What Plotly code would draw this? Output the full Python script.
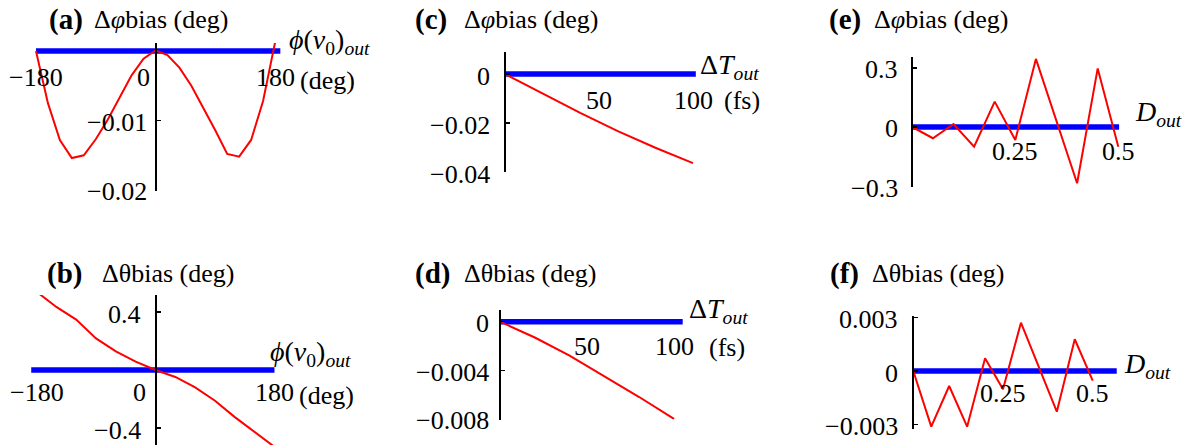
import plotly.graph_objects as go

W, H = 1188, 445
FONT = "Liberation Serif"
FS = 26

# ---------------- data ----------------
# (a) delta-phi bias vs phi(nu0)_out
a_x = [-180, -162, -144, -126, -108, -90, -72, -54, -36, -18, 0,
       18, 36, 54, 72, 90, 108, 126, 144, 162, 180]
a_red = [0.0, -0.0075, -0.0128, -0.0154, -0.0150, -0.0127, -0.0099, -0.0068, -0.0035, -0.0011, 0.0001,
         -0.0006, -0.0024, -0.0050, -0.0081, -0.0114, -0.0148, -0.0152, -0.0128, -0.0072, 0.0012]
a_blue_x = [-180, 188]

# (b) delta-theta bias vs phi(nu0)_out
b_x = [-180, -150, -120, -90, -60, -30, 0, 30, 60, 90, 120, 150, 180]
b_red = [0.54, 0.435, 0.348, 0.218, 0.128, 0.058, 0.0, -0.048, -0.120, -0.212, -0.325, -0.428, -0.53]
b_blue_x = [-188, 180]

# (c) delta-phi bias vs Delta T_out (fs)
c_x = [0, 20, 40, 60, 80, 100]
c_red = [0.0, -0.0081, -0.0159, -0.0233, -0.0301, -0.0364]
c_blue_x = [0, 101.5]

# (d) delta-theta bias vs Delta T_out (fs)
d_x = [0, 20, 40, 60, 80, 100]
d_red = [0.0, -0.0013, -0.0028, -0.0045, -0.0062, -0.0080]
d_blue_x = [0, 105]

# (e) delta-phi bias vs D_out
e_x = [0, 0.05, 0.10, 0.15, 0.20, 0.25, 0.30, 0.35, 0.40, 0.45, 0.50]
e_red = [0.0, -0.057, 0.015, -0.100, 0.129, -0.066, 0.346, 0.027, -0.286, 0.298, -0.100]
e_blue_x = [0, 0.502]

# (f) delta-theta bias vs D_out
f_x = [0, 0.05, 0.10, 0.15, 0.20, 0.25, 0.30, 0.35, 0.40, 0.45, 0.50]
f_red = [0.0, -0.00312, -0.00084, -0.00312, 0.00071, -0.00103, 0.00271, 0.00022, -0.00228, 0.00178, -0.00054]
f_blue_x = [0, 0.567]

# tick labels
a_xticks, a_xtext = [-180, 0, 180], ["\u2212180", "0", "180"]
a_yticks, a_ytext = [-0.01, -0.02], ["\u22120.01", "\u22120.02"]
b_xticks, b_xtext = [-180, 0, 180], ["\u2212180", "0", "180"]
b_yticks, b_ytext = [0.4, -0.4], ["0.4", "\u22120.4"]
c_xticks, c_xtext = [50, 100], ["50", "100"]
c_yticks, c_ytext = [0, -0.02, -0.04], ["0", "\u22120.02", "\u22120.04"]
d_xticks, d_xtext = [50, 100], ["50", "100"]
d_yticks, d_ytext = [0, -0.004, -0.008], ["0", "\u22120.004", "\u22120.008"]
e_xticks, e_xtext = [0.25, 0.5], ["0.25", "0.5"]
e_yticks, e_ytext = [0.3, 0, -0.3], ["0.3", "0", "\u22120.3"]
f_xticks, f_xtext = [0.25, 0.5], ["0.25", "0.5"]
f_yticks, f_ytext = [0.003, 0, -0.003], ["0.003", "0", "\u22120.003"]

PHI_LABEL = "<i>\u03d5</i>(<i>\u03bd</i><sub>0</sub>)<sub><i>out</i></sub>"
DT_LABEL = "\u0394<i>T</i><sub><i>out</i></sub>"
D_LABEL = "<i>D</i><sub><i>out</i></sub>"
PHI_TITLE = "\u0394<i>\u03c6</i>bias (deg)"
THETA_TITLE = "\u0394\u03b8bias (deg)"

# ---------------- panel geometry (pixel mapping) ----------------
panels = [
    dict(tag="(a)", x=a_x, y=a_red, bx=a_blue_x, x0=155.5, xs=0.664, y0=51, ys=6950,
         xr=[-190, 195], yr=[-0.0201, 0.00115],
         xt=a_xticks, xtt=a_xtext, yt=a_yticks, ytt=a_ytext, xlab_dy=27, zero_dx=-12.5, ygap=7,
         title=PHI_TITLE, tag_px=(47, 19), title_px=(92, 19),
         alab=PHI_LABEL, alab_px=(287, 42), unit="(deg)", unit_px=(298, 80)),
    dict(tag="(b)", x=b_x, y=b_red, bx=b_blue_x, x0=155.5, xs=0.661, y0=370, ys=145,
         xr=[-192, 190], yr=[-0.517, 0.517],
         xt=b_xticks, xtt=b_xtext, yt=b_yticks, ytt=b_ytext, xlab_dy=22, zero_dx=-15.5, ygap=12,
         title=THETA_TITLE, tag_px=(45, 273), title_px=(100, 273),
         alab=PHI_LABEL, alab_px=(268, 353), unit="(deg)", unit_px=(297, 395)),
    dict(tag="(c)", x=c_x, y=c_red, bx=c_blue_x, x0=505, xs=1.88, y0=74, ys=2450,
         xr=[-2, 104], yr=[-0.0401, 0.0091],
         xt=c_xticks, xtt=c_xtext, yt=c_yticks, ytt=c_ytext, xlab_dy=26, zero_dx=0, ygap=13,
         title=PHI_TITLE, tag_px=(413, 19), title_px=(462, 19),
         alab=DT_LABEL, alab_px=(698, 66), unit="(fs)", unit_px=(722, 100)),
    dict(tag="(d)", x=d_x, y=d_red, bx=d_blue_x, x0=500, xs=1.74, y0=321.7, ys=12150,
         xr=[-2, 106], yr=[-0.00805, 0.00096],
         xt=d_xticks, xtt=d_xtext, yt=d_yticks, ytt=d_ytext, xlab_dy=25, zero_dx=0, ygap=9,
         title=THETA_TITLE, tag_px=(413, 273), title_px=(462, 273),
         alab=DT_LABEL, alab_px=(687, 310), unit="(fs)", unit_px=(707, 347)),
    dict(tag="(e)", x=e_x, y=e_red, bx=e_blue_x, x0=912.3, xs=412, y0=127, ys=196.7,
         xr=[-0.01, 0.52], yr=[-0.3035, 0.357],
         xt=e_xticks, xtt=e_xtext, yt=e_yticks, ytt=e_ytext, xlab_dy=25, zero_dx=0, ygap=12,
         title=PHI_TITLE, tag_px=(827, 19), title_px=(872, 19),
         alab=D_LABEL, alab_px=(1133, 113), unit=None, unit_px=None),
    dict(tag="(f)", x=f_x, y=f_red, bx=f_blue_x, x0=913.3, xs=358.8, y0=371, ys=17833,
         xr=[-0.01, 0.58], yr=[-0.00325, 0.00308],
         xt=f_xticks, xtt=f_xtext, yt=f_yticks, ytt=f_ytext, xlab_dy=22, zero_dx=0, ygap=13,
         title=THETA_TITLE, tag_px=(828, 273), title_px=(870, 273),
         alab=D_LABEL, alab_px=(1122, 365), unit=None, unit_px=None),
]

fig = go.Figure()
annotations = []
layout = dict(width=W, height=H, margin=dict(l=0, r=0, t=0, b=0, pad=0),
              paper_bgcolor="white", plot_bgcolor="rgba(0,0,0,0)", showlegend=False)


def px2paper(px, py):
    return px / W, 1 - py / H


def text_ann(text, px, py, size=FS, xanchor="left"):
    fx, fy = px2paper(px, py)
    annotations.append(dict(text=text, x=fx, y=fy, xref="paper", yref="paper",
                            xanchor=xanchor, yanchor="middle", showarrow=False,
                            font=dict(family=FONT, size=size, color="black")))


for i, p in enumerate(panels, start=1):
    xn = "x" if i == 1 else f"x{i}"
    yn = "y" if i == 1 else f"y{i}"
    xkey = "xaxis" if i == 1 else f"xaxis{i}"
    ykey = "yaxis" if i == 1 else f"yaxis{i}"

    left = p["x0"] + p["xr"][0] * p["xs"]
    right = p["x0"] + p["xr"][1] * p["xs"]
    top = p["y0"] - p["yr"][1] * p["ys"]
    bottom = p["y0"] - p["yr"][0] * p["ys"]

    layout[xkey] = dict(domain=[left / W, right / W], range=p["xr"], anchor=yn,
                        showline=False, showticklabels=False, ticks="", showgrid=False,
                        zeroline=False, fixedrange=True)
    layout[ykey] = dict(domain=[1 - bottom / H, 1 - top / H], range=p["yr"], anchor="free",
                        position=p["x0"] / W, showline=True, linecolor="black", linewidth=2,
                        ticks="inside", ticklen=4, tickwidth=1.5, tickcolor="black",
                        tickvals=p["yt"], showticklabels=False, showgrid=False,
                        zeroline=False, fixedrange=True, layer="above traces")

    # blue reference line at zero
    fig.add_trace(go.Scatter(x=p["bx"], y=[0] * len(p["bx"]), mode="lines",
                             line=dict(color="#0000FF", width=5.5),
                             xaxis=xn, yaxis=yn, hoverinfo="skip"))
    # red bias curve
    fig.add_trace(go.Scatter(x=p["x"], y=p["y"], mode="lines",
                             line=dict(color="#FF0000", width=2),
                             xaxis=xn, yaxis=yn, hoverinfo="skip"))

    # x tick labels
    for v, t in zip(p["xt"], p["xtt"]):
        annotations.append(dict(text=t, x=v, y=0, xref=xn, yref=yn, xanchor="center",
                                yanchor="middle", yshift=-p["xlab_dy"],
                                xshift=p["zero_dx"] if v == 0 else 0, showarrow=False,
                                font=dict(family=FONT, size=FS, color="black")))
    # y tick labels
    for v, t in zip(p["yt"], p["ytt"]):
        annotations.append(dict(text=t, x=0, y=v, xref=xn, yref=yn, xanchor="right",
                                yanchor="middle", xshift=-p["ygap"], yshift=-2, showarrow=False,
                                font=dict(family=FONT, size=FS, color="black")))

    # titles and axis labels
    text_ann(f"<b>{p['tag']}</b>", *p["tag_px"], size=FS + 3)
    text_ann(p["title"], *p["title_px"])
    text_ann(p["alab"], *p["alab_px"], size=FS + 2)
    if p["unit"]:
        text_ann(p["unit"], *p["unit_px"])

layout["annotations"] = annotations
fig.update_layout(**layout)
fig.write_html("out.html",
               config={"displayModeBar": False, "staticPlot": True},
               post_script="document.body.style.margin='0';document.body.style.overflow='hidden';")
